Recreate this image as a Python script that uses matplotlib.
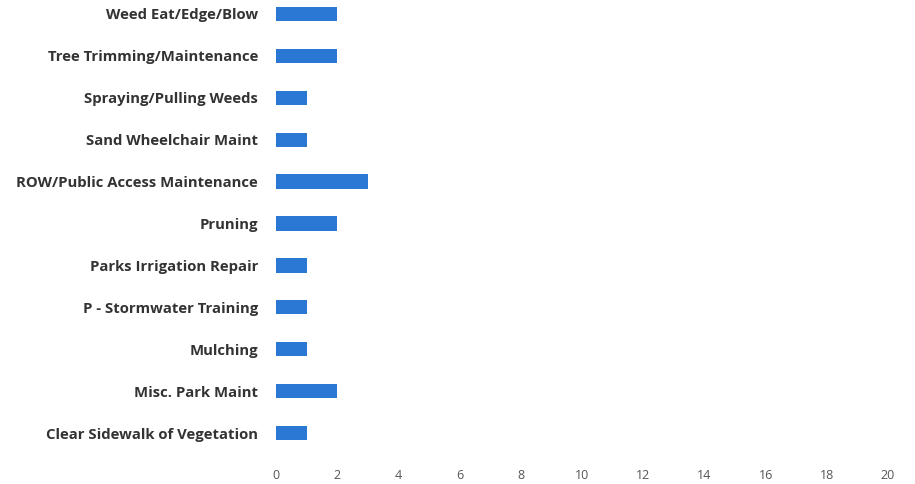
import matplotlib
matplotlib.use('Agg')
import matplotlib.pyplot as plt

categories = [
    'Weed Eat/Edge/Blow',
    'Tree Trimming/Maintenance',
    'Spraying/Pulling Weeds',
    'Sand Wheelchair Maint',
    'ROW/Public Access Maintenance',
    'Pruning',
    'Parks Irrigation Repair',
    'P - Stormwater Training',
    'Mulching',
    'Misc. Park Maint',
    'Clear Sidewalk of Vegetation',
]
values = [2, 2, 1, 1, 3, 2, 1, 1, 1, 2, 1]
x_ticks = list(range(0, 21, 2))

plt.rcParams['font.family'] = ['Open Sans', 'DejaVu Sans']

fig = plt.figure(figsize=(9.15, 4.84), dpi=100)
ax = fig.add_axes([276 / 915, 1 - 454 / 484, (888 - 276) / 915, 454 / 484])

pos = list(range(len(categories)))
ax.barh(pos, values, height=0.34, color='#2b78d4')

ax.set_ylim(10.5, -0.333)
ax.set_xlim(0, 20)
ax.set_yticks(pos)
ax.set_yticklabels(categories, fontsize=10.7, fontweight='bold', color='#333333')
ax.set_xticks(x_ticks)
ax.set_xticklabels([str(t) for t in x_ticks], fontsize=9, color='#555555')
ax.tick_params(axis='y', length=0, pad=13)
ax.tick_params(axis='x', length=0, pad=11)
for s in ax.spines.values():
    s.set_visible(False)

fig.savefig('out.png', dpi=100)
